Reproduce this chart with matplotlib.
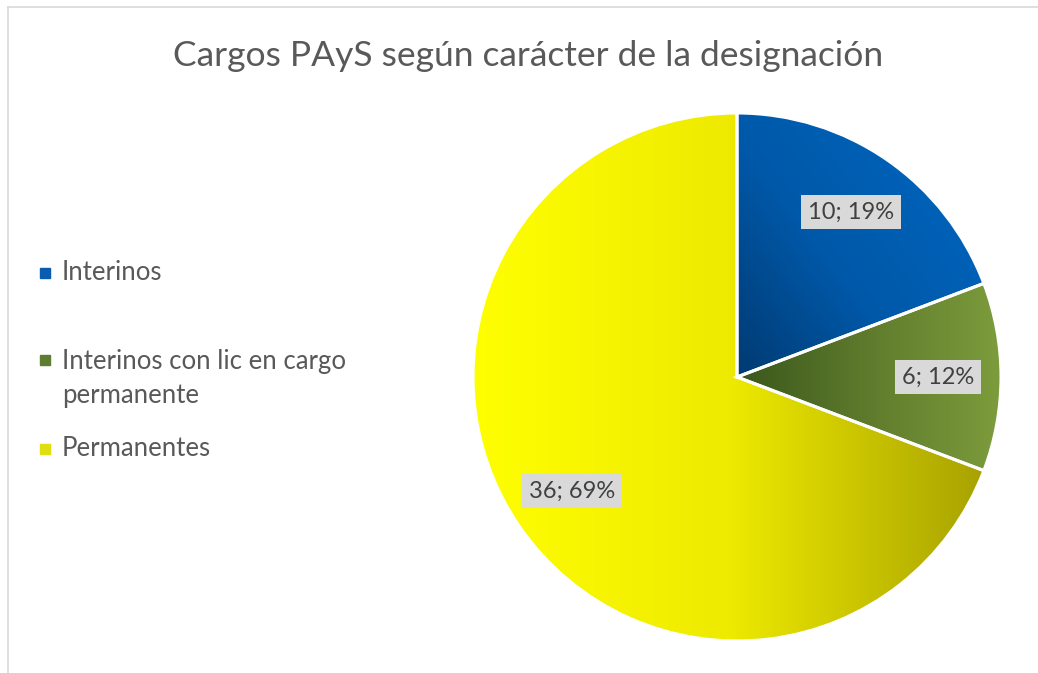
import matplotlib
matplotlib.use('Agg')
import matplotlib.pyplot as plt
import matplotlib.patches as patches
from matplotlib.colors import LinearSegmentedColormap
from matplotlib.lines import Line2D
import numpy as np

plt.rcParams['font.family'] = ['Lato', 'DejaVu Sans']

title = "Cargos PAyS según carácter de la designación"
categories = ["Interinos", "Interinos con lic en cargo\npermanente", "Permanentes"]
values = [10, 6, 36]
# gradient stops for each slice, and how the gradient runs (x weight, y weight)
gradients = [
    [(0.0, "#003a72"), (0.4, "#0058a8"), (1.0, "#0068c2")],
    [(0.0, "#3a561c"), (0.55, "#627f2e"), (1.0, "#7c9c3c")],
    [(0.0, "#ffff00"), (0.5, "#eeea00"), (1.0, "#a8a200")],
]
grad_dirs = [(0.55, 0.45), (1.0, 0.0), (1.0, 0.0)]
legend_colors = ["#0a5cb0", "#5f7d30", "#dede10"]

W, H = 1038, 673
fig = plt.figure(figsize=(W / 100, H / 100), dpi=100)
fig.patch.set_facecolor("white")

# chart frame
fig.add_artist(Line2D([8 / W, 1], [1 - 7 / H, 1 - 7 / H], color="#d9d9d9", lw=1.2))
fig.add_artist(Line2D([8 / W, 8 / W], [0, 1 - 7 / H], color="#d9d9d9", lw=1.2))

fig.text(528 / W, 1 - 56 / H, title, ha="center", va="center",
         fontsize=25.5, color="#595959")

cx, cy, r = 737, 377, 264
rr = r * 1.01
ax = fig.add_axes([(cx - rr) / W, (H - cy - rr) / H, 2 * rr / W, 2 * rr / H])

total = sum(values)


def fmt(pct):
    return "%d; %d%%" % (round(pct * total / 100.0), round(pct))


wedges, texts, autotexts = ax.pie(
    values, startangle=90, counterclock=False, radius=1,
    autopct=fmt, pctdistance=0.76,
    wedgeprops=dict(edgecolor="white", linewidth=2.2),
    textprops=dict(fontsize=17, color="#404040"))

gx, gy = np.meshgrid(np.linspace(0, 1, 256), np.linspace(0, 1, 256))
for w, stops, (wx, wy) in zip(wedges, gradients, grad_dirs):
    ext = w.get_path().get_extents()
    cmap = LinearSegmentedColormap.from_list("g", stops)
    grad = wx * gx + wy * gy
    im = ax.imshow(grad, cmap=cmap, aspect="auto", origin="lower",
                   vmin=0, vmax=1,
                   extent=[ext.x0, ext.x1, ext.y0, ext.y1], zorder=0.5)
    im.set_clip_path(w)
    w.set_facecolor("none")
    w.set_zorder(1)

for t in autotexts:
    t.set_bbox(dict(facecolor="#d9d9d9", edgecolor="none", pad=5))
    t.set_zorder(3)

ax.set_xlim(-1.01, 1.01)
ax.set_ylim(-1.01, 1.01)
ax.set_aspect("equal")
ax.axis("off")

# legend
leg_y = [273, 360, 449]
for y, lab, col in zip(leg_y, categories, legend_colors):
    fig.add_artist(patches.Rectangle((40 / W, 1 - (y + 5) / H), 10 / W, 10 / H,
                                     transform=fig.transFigure, color=col))
    ty = y + 18.5 if "\n" in lab else y
    fig.text(62 / W, 1 - ty / H, lab, ha="left", va="center",
             fontsize=18.5, color="#595959", linespacing=1.4,
             transform=fig.transFigure)

fig.savefig("out.png", dpi=100)
